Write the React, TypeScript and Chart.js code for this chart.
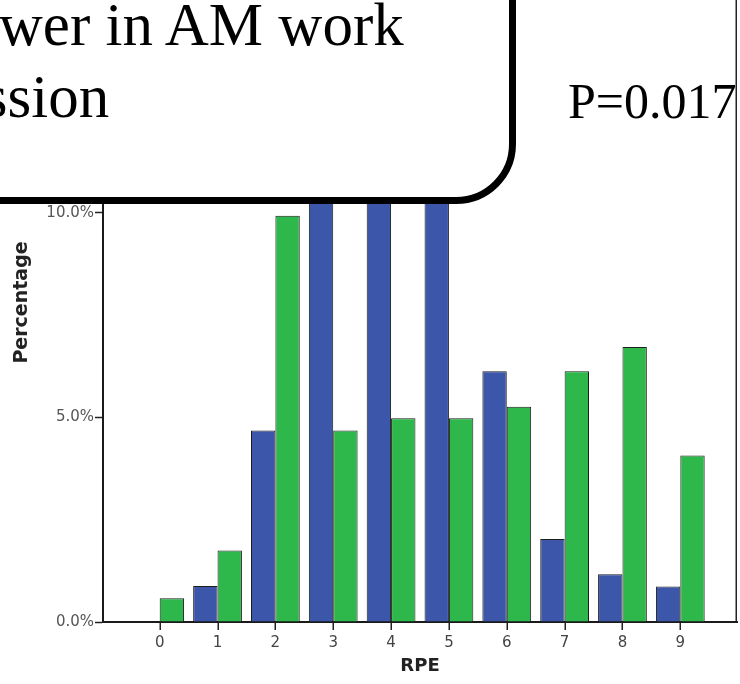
import React, { useEffect, useRef } from 'react';
import { Chart, registerables } from 'chart.js';

Chart.register(...registerables);

// ---- data ----
const rpeCategories: number[] = [0, 1, 2, 3, 4, 5, 6, 7, 8, 9];
const blueSeries: (number | null)[] = [null, 0.88, 4.68, 11.6, 12.1, 11.4, 6.13, 2.03, 1.17, 0.87];
const greenSeries: number[] = [0.58, 1.75, 9.93, 4.68, 4.98, 4.98, 5.26, 6.13, 6.72, 4.07];
const yTickValues: number[] = [0, 5, 10];
const xTitle = 'RPE';
const yTitle = 'Percentage';
const calloutLine1 = 'Lower in AM work';
const calloutLine2 = 'session';
const pValueText = 'P=0.017';

// right frame line + x tick marks, computed from the chart's own scale
const framePlugin = {
  id: 'framePlugin',
  afterDraw(chart: any) {
    const { ctx, chartArea, scales } = chart;
    ctx.save();
    ctx.strokeStyle = '#222';
    ctx.lineWidth = 1.5;
    ctx.beginPath();
    ctx.moveTo(chartArea.right - 0.75, chartArea.top);
    ctx.lineTo(chartArea.right - 0.75, chartArea.bottom);
    ctx.stroke();
    const xs = scales.x;
    ctx.lineWidth = 1.5;
    ctx.beginPath();
    for (const t of xs.ticks) {
      const px = Math.round(xs.getPixelForValue(t.value)) + 0.25;
      ctx.moveTo(px, chartArea.bottom);
      ctx.lineTo(px, chartArea.bottom + 8);
    }
    ctx.stroke();
    ctx.restore();
  },
};

export default function App() {
  const ref = useRef<HTMLCanvasElement>(null);

  useEffect(() => {
    if (!ref.current) return;
    const chart = new Chart(ref.current, {
      type: 'bar',
      data: {
        datasets: [
          {
            label: 'Group 1',
            data: rpeCategories.map((x, i) => ({ x, y: blueSeries[i] })) as any,
            backgroundColor: '#3C56A9',
            borderColor: '#1c1c1c',
            borderWidth: 1,
          },
          {
            label: 'Group 2',
            data: rpeCategories.map((x, i) => ({ x, y: greenSeries[i] })) as any,
            backgroundColor: '#2EB84B',
            borderColor: '#1c1c1c',
            borderWidth: 1,
          },
        ],
      },
      options: {
        responsive: false,
        animation: false,
        layout: { padding: { left: 0, right: 3, top: 0, bottom: 0 } },
        plugins: { legend: { display: false }, tooltip: { enabled: false } },
        datasets: { bar: { categoryPercentage: 0.843, barPercentage: 1 } } as any,
        scales: {
          x: {
            type: 'linear',
            min: -0.98,
            max: 9.98,
            offset: false,
            afterBuildTicks: (s: any) => {
              s.ticks = rpeCategories.map((v) => ({ value: v }));
            },
            afterFit: (s: any) => {
              s.height = 62;
              s.paddingLeft = 0;
              s.paddingRight = 0;
            },
            grid: {
              offset: false,
              drawOnChartArea: false,
              drawTicks: true,
              tickLength: 8,
              tickColor: 'rgba(0,0,0,0)',
              tickWidth: 1.5,
            },
            border: { display: true, color: '#1a1a1a', width: 2 },
            ticks: {
              color: '#444',
              font: { family: 'DejaVu Sans', size: 15 },
              padding: 4,
              maxRotation: 0,
              autoSkip: false,
              callback: (v: any) => String(v),
            },
            title: {
              display: true,
              text: xTitle,
              color: '#222',
              font: { family: 'DejaVu Sans', size: 18, weight: 'bold' },
              padding: { top: 0, bottom: 7 },
            },
          } as any,
          y: {
            min: 0,
            max: 15.62,
            afterBuildTicks: (s: any) => {
              s.ticks = yTickValues.map((v) => ({ value: v }));
            },
            afterFit: (s: any) => {
              s.width = 103;
              s.paddingTop = 0;
              s.paddingBottom = 0;
            },
            grid: {
              offset: false,
              drawOnChartArea: false,
              drawTicks: true,
              tickLength: 8,
              tickColor: '#222',
              tickWidth: 1.5,
            },
            border: { display: true, color: '#1a1a1a', width: 2 },
            ticks: {
              color: '#555',
              font: { family: 'DejaVu Sans', size: 15 },
              padding: 1,
              callback: (v: any) => Number(v).toFixed(1) + '%',
            },
            title: {
              display: true,
              text: yTitle,
              color: '#222',
              font: { family: 'DejaVu Sans', size: 19, weight: 'bold' },
              padding: { top: 11, bottom: 0 },
            },
          } as any,
        },
      },
      plugins: [framePlugin],
    });
    return () => chart.destroy();
  }, []);

  const serif = '"Liberation Serif", serif';

  return (
    <div
      style={{
        position: 'absolute',
        left: 0,
        top: 0,
        width: 740,
        height: 684,
        overflow: 'hidden',
        background: '#fff',
      }}
    >
      <canvas
        ref={ref}
        width={740}
        height={701}
        style={{ position: 'absolute', left: 0, top: -17, width: 740, height: 701 }}
      />
      <div
        style={{
          position: 'absolute',
          left: -100,
          top: -100,
          width: 616,
          height: 304,
          boxSizing: 'border-box',
          border: '7px solid #000',
          borderRadius: 60,
          background: '#fff',
        }}
      />
      <div
        style={{
          position: 'absolute',
          left: -69,
          top: -11,
          fontFamily: serif,
          fontSize: 61,
          lineHeight: '72px',
          whiteSpace: 'pre',
          color: '#000',
        }}
      >
        {calloutLine1}
      </div>
      <div
        style={{
          position: 'absolute',
          left: -67,
          top: 61,
          fontFamily: serif,
          fontSize: 61,
          lineHeight: '72px',
          whiteSpace: 'pre',
          color: '#000',
        }}
      >
        {calloutLine2}
      </div>
      <div
        style={{
          position: 'absolute',
          left: 568,
          top: 76,
          fontFamily: serif,
          fontSize: 50,
          lineHeight: '50px',
          whiteSpace: 'pre',
          color: '#000',
        }}
      >
        {pValueText}
      </div>
    </div>
  );
}
